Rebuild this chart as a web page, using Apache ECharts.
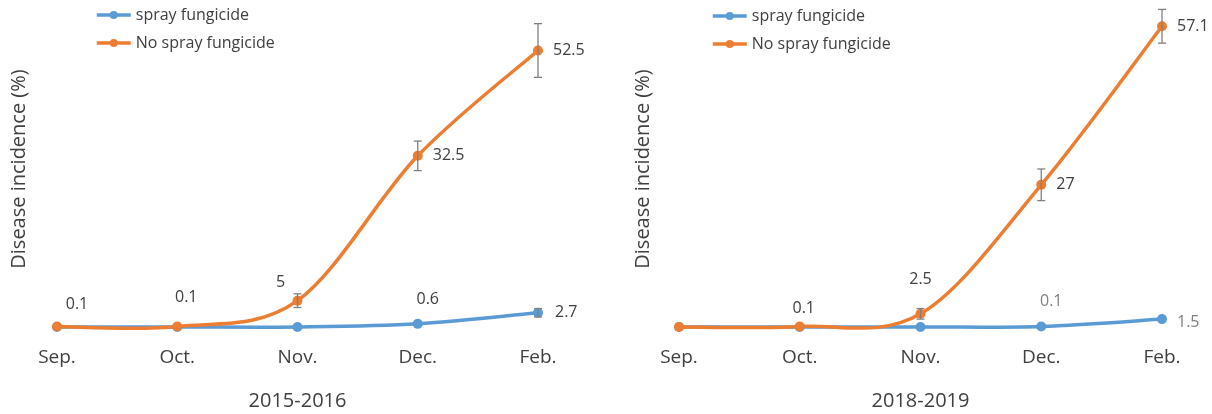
<!DOCTYPE html>
<html>
<head>
<meta charset="utf-8">
<script src="https://cdn.jsdelivr.net/npm/echarts@6/dist/echarts.min.js"></script>
<style>html,body{margin:0;padding:0;background:#fff}#c{width:1212px;height:414px}</style>
</head>
<body>
<div id="c"></div>
<script>
// ---- data ----
const months = ['Sep.', 'Oct.', 'Nov.', 'Dec.', 'Feb.'];
const seasons = ['2015-2016', '2018-2019'];
const sprayA = [0, 0, 0, 0.6, 2.7];
const noSprayA = [0.1, 0.1, 5, 32.5, 52.5];
const sprayErrA = [0, 0, 0, 0, 0.8];
const noSprayErrA = [0, 0, 1.3, 2.8, 5.1];
const sprayB = [0, 0, 0, 0.1, 1.5];
const noSprayB = [0, 0.1, 2.5, 27, 57.1];
const sprayErrB = [0, 0, 0, 0, 0];
const noSprayErrB = [0, 0, 1, 3, 3.2];
const labelsSprayA = [null, null, null, '0.6', '2.7'];
const labelsNoSprayA = ['0.1', '0.1', '5', '32.5', '52.5'];
const labelsSprayB = [null, null, null, '0.1', '1.5'];
const labelsNoSprayB = [null, '0.1', '2.5', '27', '57.1'];
const yMax = 60;

// ---- styling ----
const FONT = '"Open Sans", "Noto Sans", sans-serif';
const BLUE = '#5B9BD5', ORANGE = '#ED7D31', TXT = '#404040', ERR = '#808080';
const NAMES = ['spray fungicide', 'No spray fungicide'];
const LW = 3.5;

// label placement (style, not data)
const lp = {
  sprayA:   [null, null, null, {position:'inside', offset:[10,-24]}, {position:'right', distance:12}],
  noSprayA: [{position:'inside', offset:[20,-22]}, {position:'inside', offset:[9,-29]}, {position:'inside', offset:[-17,-18]}, {position:'right', distance:10}, {position:'right', distance:10}],
  sprayB:   [null, null, null, {position:'inside', offset:[10,-25], color:'#7f7f7f'}, {position:'right', distance:10, offset:[0,3], color:'#7f7f7f'}],
  noSprayB: [null, {position:'inside', offset:[4,-18]}, {position:'inside', offset:[0,-34]}, {position:'right', distance:10}, {position:'right', distance:10}]
};

function pts(values, labels, pos) {
  return values.map((v, i) => {
    const d = { value: v };
    if (labels[i] !== null) {
      d.label = Object.assign({ show: true, formatter: labels[i], color: TXT, fontSize: 16, fontFamily: FONT }, pos[i]);
    } else {
      d.label = { show: false };
    }
    return d;
  });
}

// markers + labels (line itself drawn by the smooth custom series below)
function lineSeries(name, color, values, labels, pos, idx) {
  return {
    type: 'line', name: name, xAxisIndex: idx, yAxisIndex: idx,
    symbol: 'circle', symbolSize: 10,
    lineStyle: { width: LW, color: color, opacity: 0 }, itemStyle: { color: color },
    data: pts(values, labels, pos), z: 4
  };
}

// Excel-like smoothed line (Catmull-Rom bezier through the scaled points)
function smoothSeries(color, values, idx, z) {
  return {
    type: 'custom', xAxisIndex: idx, yAxisIndex: idx, z: z, silent: true,
    data: values.map((v, i) => [i, v]),
    renderItem: function (params, api) {
      if (params.dataIndex !== 0) return null;
      const P = values.map((v, j) => api.coord([j, v]));
      const n = P.length;
      let d = 'M' + P[0][0] + ' ' + P[0][1];
      for (let i = 0; i < n - 1; i++) {
        const p0 = P[Math.max(i - 1, 0)], p1 = P[i], p2 = P[i + 1], p3 = P[Math.min(i + 2, n - 1)];
        const c1 = [p1[0] + (p2[0] - p0[0]) / 6, p1[1] + (p2[1] - p0[1]) / 6];
        const c2 = [p2[0] - (p3[0] - p1[0]) / 6, p2[1] - (p3[1] - p1[1]) / 6];
        d += ' C' + c1[0] + ' ' + c1[1] + ' ' + c2[0] + ' ' + c2[1] + ' ' + p2[0] + ' ' + p2[1];
      }
      return {
        type: 'path', shape: { pathData: d },
        style: { fill: null, stroke: color, lineWidth: LW, lineCap: 'round', lineJoin: 'round' }
      };
    }
  };
}

function errSeries(values, errs, idx) {
  return {
    type: 'custom', xAxisIndex: idx, yAxisIndex: idx, z: 5, silent: true,
    data: values.map((v, i) => [i, v - errs[i], v + errs[i], errs[i]]),
    renderItem: function (params, api) {
      if (api.value(3) <= 0) return null;
      const lo = api.coord([api.value(0), api.value(1)]);
      const hi = api.coord([api.value(0), api.value(2)]);
      const w = 4;
      const st = { stroke: ERR, lineWidth: 1.3 };
      return {
        type: 'group', children: [
          { type: 'line', shape: { x1: lo[0], y1: lo[1], x2: hi[0], y2: hi[1] }, style: st },
          { type: 'line', shape: { x1: lo[0] - w, y1: lo[1], x2: lo[0] + w, y2: lo[1] }, style: st },
          { type: 'line', shape: { x1: hi[0] - w, y1: hi[1], x2: hi[0] + w, y2: hi[1] }, style: st }
        ]
      };
    }
  };
}

const grids = [
  { left: 57, width: 481, top: 11, bottom: 87, outerBoundsMode: 'none', containLabel: false },
  { left: 679, width: 483, top: 11, bottom: 87, outerBoundsMode: 'none', containLabel: false }
];

const yGaps = [28, 26];

const xAxes = seasons.map((s, i) => ({
  type: 'category', gridIndex: i, data: months, boundaryGap: false,
  axisLine: { show: false }, axisTick: { show: false },
  axisLabel: { color: TXT, fontSize: 19, fontFamily: FONT, margin: 21 },
  name: s, nameLocation: 'middle', nameGap: 64,
  nameTextStyle: { color: TXT, fontSize: 20, fontFamily: FONT }
}));

const yAxes = seasons.map((s, i) => ({
  type: 'value', gridIndex: i, min: 0, max: yMax,
  axisLine: { show: false }, axisTick: { show: false }, axisLabel: { show: false },
  splitLine: { show: false },
  name: 'Disease incidence (%)', nameLocation: 'middle', nameGap: yGaps[i],
  nameTextStyle: { color: TXT, fontSize: 20, fontFamily: FONT }
}));

const legendCommon = {
  orient: 'vertical', itemWidth: 34, itemHeight: 10, itemGap: 12,
  lineStyle: { width: LW, opacity: 1 },
  textStyle: { color: TXT, fontSize: 16, fontFamily: FONT }, data: NAMES
};

const option = {
  animation: false,
  grid: grids,
  xAxis: xAxes,
  yAxis: yAxes,
  legend: [
    Object.assign({ left: 90, top: 2 }, legendCommon),
    Object.assign({ left: 706, top: 3 }, legendCommon)
  ],
  series: [
    smoothSeries(BLUE, sprayA, 0, 2),
    smoothSeries(ORANGE, noSprayA, 0, 3),
    lineSeries(NAMES[0], BLUE, sprayA, labelsSprayA, lp.sprayA, 0),
    lineSeries(NAMES[1], ORANGE, noSprayA, labelsNoSprayA, lp.noSprayA, 0),
    errSeries(sprayA, sprayErrA, 0),
    errSeries(noSprayA, noSprayErrA, 0),
    smoothSeries(BLUE, sprayB, 1, 2),
    smoothSeries(ORANGE, noSprayB, 1, 3),
    lineSeries(NAMES[0], BLUE, sprayB, labelsSprayB, lp.sprayB, 1),
    lineSeries(NAMES[1], ORANGE, noSprayB, labelsNoSprayB, lp.noSprayB, 1),
    errSeries(sprayB, sprayErrB, 1),
    errSeries(noSprayB, noSprayErrB, 1)
  ]
};

const chart = echarts.init(document.getElementById('c'), null, { renderer: 'canvas' });
chart.setOption(option);
</script>
</body>
</html>
